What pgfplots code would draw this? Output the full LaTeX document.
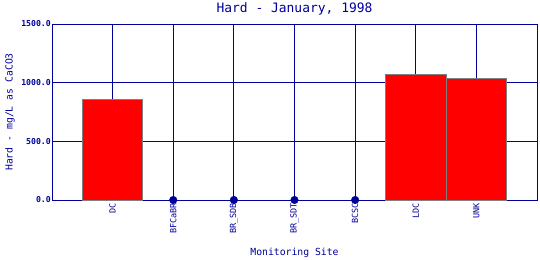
\documentclass[border=0pt]{standalone}
\usepackage{pgfplots}
\pgfplotsset{compat=1.18}
\usepackage{fontspec}
\setmainfont{DejaVu Sans Mono}
\definecolor{navy}{RGB}{0,0,153}
\definecolor{edgegray}{RGB}{128,128,128}
\begin{document}
\begin{tikzpicture}
\useasboundingbox (-52bp,-60bp) rectangle (488bp,200bp);
\begin{axis}[
  scale only axis,
  clip=false,
  width=485bp, height=176bp,
  xmin=0, xmax=8, ymin=0, ymax=1500,
  xtick={1,2,3,4,5,6,7},
  xticklabels={DC,BFCaBR,BR\_SDB,BR\_SDT,BCSC,LDC,UNK},
  ytick={0,500,1000,1500},
  yticklabels={0.0,500.0,1000.0,1500.0},
  major tick length=0pt,
  grid=major,
  major grid style={navy, line width=0.9pt},
  axis line style={navy, line width=0.9pt},
  x tick label style={rotate=90, anchor=east, font=\fontsize{8.5}{9}\selectfont, text=navy, inner sep=3bp},
  y tick label style={font=\bfseries\fontsize{8.2}{9}\selectfont, text=navy, inner sep=1pt},
  xlabel={Monitoring Site},
  xlabel style={font=\fontsize{9.8}{11}\selectfont, text=navy, at={(axis description cs:0.5,-0.30)}, anchor=center},
  ylabel={Hard - mg/L as CaCO3},
  ylabel style={font=\fontsize{9.8}{11}\selectfont, text=navy, at={(axis description cs:-0.0866,0.5)}, anchor=center},
]
\addplot[ybar, bar width=1, fill=red, draw=edgegray, line width=0.9pt] coordinates {(1,859) (6,1072) (7,1035)};
\addplot[only marks, mark=*, mark size=3.8bp, navy, mark options={fill=navy}] coordinates {(2,0) (3,0) (4,0) (5,0)};
\node[font=\fontsize{13}{14}\selectfont, text=navy, anchor=center] at (axis description cs:0.5,1.085) {Hard - January, 1998};
\end{axis}
\end{tikzpicture}
\end{document}
